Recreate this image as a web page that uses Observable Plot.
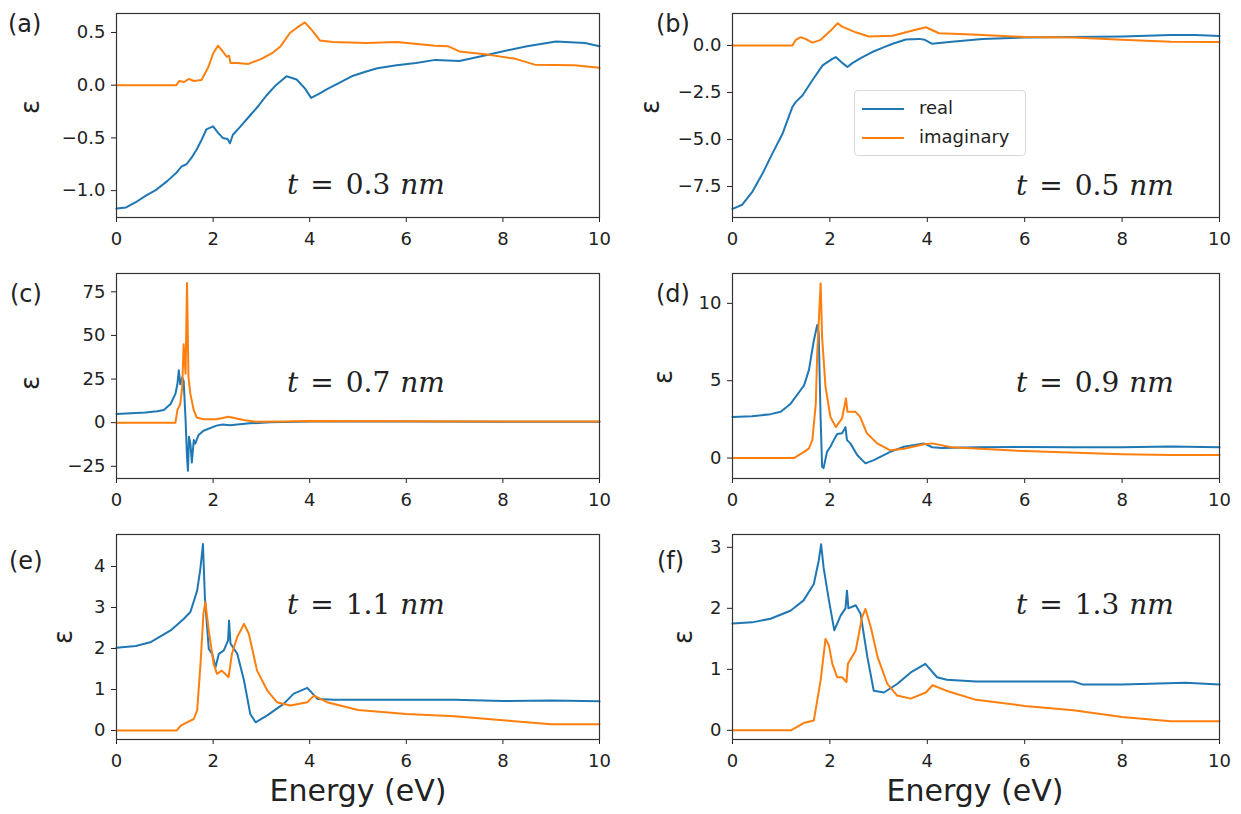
<!DOCTYPE html>
<html><head><meta charset="utf-8">
<script src="https://cdn.jsdelivr.net/npm/d3@7"></script>
<script src="https://cdn.jsdelivr.net/npm/@observablehq/plot@0.6"></script>
<style>
body{margin:0;background:#fff;}
#fig{position:relative;width:1241px;height:814px;overflow:hidden;background:#fff;font-family:"DejaVu Sans",sans-serif;color:#222;}
.p{position:absolute;}
.plab{position:absolute;font-size:24px;line-height:1;}
.ylab{position:absolute;font-size:26px;line-height:1;transform:translate(-50%,-50%) rotate(-90deg);}
.xlab{position:absolute;font-size:30px;line-height:1;transform:translateX(-50%);white-space:nowrap;}
.ann{position:absolute;font-family:"DejaVu Serif",serif;font-size:28px;line-height:1;white-space:nowrap;}
.ann span{display:inline-block;}
.leg{position:absolute;left:854px;top:90px;width:170px;height:64px;border:1px solid #d8d8d8;border-radius:4px;background:rgba(255,255,255,0.85);font-size:18px;}
.leg div{position:absolute;left:7px;height:20px;line-height:20px;white-space:nowrap;}
.leg i{display:inline-block;width:42px;height:2px;vertical-align:middle;margin-right:15px;}
</style></head><body><div id="fig"></div>
<script>
// ---------- data (energy in eV, permittivity) ----------
const energyTicks = [0, 2, 4, 6, 8, 10];
const seriesNames = ["real", "imaginary"];
const thickness = ["0.3", "0.5", "0.7", "0.9", "1.1", "1.3"];

// (a) t = 0.3 nm
const aReE = [0,0.2,0.4,0.6,0.83,1.05,1.24,1.35,1.45,1.55,1.66,1.76,1.86,2.0,2.1,2.2,2.3,2.35,2.41,2.55,2.76,2.95,3.1,3.3,3.52,3.73,3.9,4.03,4.2,4.35,4.69,4.9,5.17,5.4,5.8,6.2,6.6,7.1,7.6,7.85,8.5,9.1,9.7,10];
const aRe  = [-1.17,-1.16,-1.11,-1.05,-0.99,-0.91,-0.83,-0.77,-0.75,-0.69,-0.61,-0.52,-0.42,-0.39,-0.45,-0.50,-0.51,-0.55,-0.47,-0.40,-0.29,-0.19,-0.10,0.0,0.085,0.054,-0.03,-0.12,-0.08,-0.04,0.04,0.09,0.13,0.16,0.19,0.21,0.24,0.23,0.28,0.306,0.37,0.415,0.40,0.37];
const aImE = [0,1.24,1.3,1.4,1.5,1.6,1.76,1.9,2.0,2.1,2.2,2.28,2.33,2.36,2.5,2.72,3.0,3.24,3.4,3.59,3.75,3.9,4.05,4.21,4.48,5.17,5.8,6.6,6.86,7.1,7.68,8.26,8.66,9.48,10];
const aIm  = [0,0,0.04,0.03,0.06,0.04,0.05,0.17,0.30,0.375,0.32,0.27,0.28,0.21,0.21,0.20,0.25,0.31,0.37,0.495,0.55,0.595,0.52,0.425,0.41,0.40,0.41,0.375,0.37,0.32,0.29,0.25,0.195,0.19,0.165];
const aTicks = [-1.0, -0.5, 0.0, 0.5];

// (b) t = 0.5 nm
const bReE = [0,0.2,0.41,0.62,0.82,1.03,1.23,1.3,1.44,1.64,1.85,2.05,2.12,2.26,2.36,2.46,2.65,2.87,3.1,3.29,3.56,3.83,3.95,4.1,4.45,5.13,6,7,8,9,9.5,10];
const bRe  = [-8.69,-8.47,-7.77,-6.8,-5.74,-4.68,-3.27,-3.0,-2.65,-1.85,-1.06,-0.71,-0.62,-0.94,-1.15,-0.94,-0.65,-0.35,-0.1,0.09,0.32,0.35,0.3,0.09,0.18,0.35,0.42,0.45,0.48,0.55,0.55,0.5];
const bImE = [0,1.23,1.3,1.4,1.5,1.64,1.81,2.0,2.16,2.25,2.36,2.53,2.8,3.29,3.7,3.97,4.24,4.8,5.13,6,7,8,9,10];
const bIm  = [0,0,0.3,0.44,0.35,0.15,0.3,0.75,1.18,1.0,0.88,0.7,0.48,0.52,0.8,0.97,0.65,0.6,0.55,0.45,0.42,0.3,0.2,0.18];
const bTicks = [-7.5, -5.0, -2.5, 0.0];

// (c) t = 0.7 nm
const cReE = [0,0.3,0.6,0.84,0.98,1.12,1.22,1.26,1.29,1.32,1.36,1.39,1.43,1.46,1.48,1.5,1.53,1.56,1.6,1.63,1.7,1.8,2.07,2.2,2.35,2.5,2.76,3.18,4,6,8,10];
const cRe  = [5.0,5.4,5.8,6.5,7.3,10.7,16.5,22,30,22,26,24,2,-20,-27.6,-8,-12,-22.8,-10,-12,-7,-4.6,-1.7,-1.0,-1.5,-1.0,-0.4,0.2,0.6,0.6,0.5,0.5];
const cImE = [0,1.22,1.26,1.32,1.36,1.39,1.43,1.46,1.49,1.53,1.6,1.66,1.8,2.07,2.32,2.63,2.9,3.5,4,6,8,10];
const cIm  = [0,0,7,10.7,20,45,28,80,26,16.5,7,3,2,2,3.4,1.5,0.5,0.7,1.0,0.8,0.7,0.6];
const cTicks = [-25, 0, 25, 50, 75];

// (d) t = 0.9 nm
const dReE = [0,0.4,0.78,0.99,1.19,1.4,1.47,1.57,1.67,1.74,1.77,1.81,1.84,1.87,1.94,2.01,2.08,2.15,2.25,2.32,2.35,2.42,2.56,2.73,2.9,3.24,3.52,3.93,4.1,4.3,5,6,7,8,9,10];
const dRe  = [2.65,2.7,2.84,3.0,3.5,4.4,4.7,5.7,7.6,8.6,8.1,2.5,-0.56,-0.65,0.4,0.73,1.16,1.55,1.6,2.0,1.16,0.95,0.2,-0.34,-0.13,0.4,0.73,0.95,0.7,0.65,0.7,0.72,0.7,0.7,0.75,0.7];
const dImE = [0,1.26,1.47,1.57,1.64,1.71,1.74,1.81,1.84,1.91,2.01,2.12,2.25,2.33,2.36,2.52,2.62,2.76,2.97,3.24,3.52,3.93,4.1,4.5,6,8,9,10];
const dIm  = [0,0,0.4,0.63,1.16,3.5,6.8,11.3,7.8,4.6,2.67,2.0,2.57,3.86,3.0,3.0,2.67,1.6,0.95,0.5,0.6,0.9,0.95,0.7,0.45,0.25,0.2,0.2];
const dTicks = [0, 5, 10];

// (e) t = 1.1 nm
const eReE = [0,0.4,0.7,1.12,1.39,1.53,1.67,1.74,1.79,1.83,1.91,1.98,2.05,2.12,2.22,2.31,2.33,2.36,2.5,2.64,2.77,2.88,3.12,3.46,3.67,3.95,4.16,4.5,5,6,7,8,9,10];
const eRe  = [2.02,2.06,2.15,2.44,2.72,2.89,3.41,3.98,4.55,3.25,1.99,1.87,1.54,1.87,1.95,2.2,2.68,2.12,1.87,1.22,0.4,0.2,0.37,0.65,0.9,1.04,0.77,0.75,0.75,0.75,0.75,0.72,0.73,0.71];
const eImE = [0,1.25,1.33,1.6,1.67,1.74,1.8,1.84,1.91,2.01,2.08,2.18,2.32,2.39,2.5,2.64,2.74,2.91,3.12,3.32,3.6,3.95,4.09,4.36,5,6,7,8,9,10];
const eIm  = [0,0,0.12,0.28,0.49,1.63,2.85,3.13,2.44,1.63,1.38,1.46,1.3,1.87,2.28,2.6,2.36,1.46,0.98,0.69,0.61,0.69,0.85,0.69,0.5,0.4,0.35,0.25,0.15,0.15];
const eTicks = [0, 1, 2, 3, 4];

// (f) t = 1.3 nm
const fReE = [0,0.4,0.78,1.19,1.46,1.67,1.77,1.82,1.87,1.98,2.09,2.22,2.32,2.35,2.38,2.53,2.63,2.77,2.9,3.11,3.38,3.66,3.96,4.2,4.4,5,6,7,7.2,8,9.3,10];
const fRe  = [1.75,1.77,1.83,1.96,2.13,2.4,2.78,3.05,2.67,2.13,1.64,1.88,2.0,2.29,2.0,2.05,1.91,1.2,0.65,0.62,0.76,0.95,1.09,0.87,0.83,0.8,0.8,0.8,0.75,0.75,0.78,0.75];
const fImE = [0,1.2,1.46,1.67,1.81,1.91,1.98,2.05,2.15,2.25,2.34,2.37,2.53,2.66,2.73,2.84,2.98,3.18,3.38,3.66,3.97,4.11,4.39,5,6,7,8,9,10];
const fIm  = [0,0,0.12,0.16,0.82,1.5,1.39,1.09,0.87,0.87,0.79,1.09,1.31,1.85,1.99,1.69,1.2,0.76,0.57,0.52,0.62,0.74,0.65,0.5,0.4,0.33,0.22,0.15,0.15];
const fTicks = [0, 1, 2, 3];

// ---------- layout ----------
const BLUE = "#1f77b4", ORANGE = "#ff7f0e";
const cols = [
  {left: 0,   width: 620, mL: 116, mR: 21},
  {left: 620, width: 621, mL: 112, mR: 22}
];
const rows = [
  {top: 0,   height: 252, mT: 13, mB: 35},
  {top: 250, height: 263, mT: 23, mB: 35},
  {top: 510, height: 264, mT: 24, mB: 35}
];
const panels = [
  {id: "a", r: 0, c: 0, reE: aReE, re: aRe, imE: aImE, im: aIm, ticks: aTicks, dom: [-1.255, 0.68], fmt: ".1f", ylab: [30, 107],  ann: [287, 171]},
  {id: "b", r: 0, c: 1, reE: bReE, re: bRe, imE: bImE, im: bIm, ticks: bTicks, dom: [-9.15, 1.7],   fmt: ".1f", ylab: [650, 107], ann: [1016, 172]},
  {id: "c", r: 1, c: 0, reE: cReE, re: cRe, imE: cImE, im: cIm, ticks: cTicks, dom: [-32, 85.5],    fmt: "d",   ylab: [30, 383],  ann: [287, 369]},
  {id: "d", r: 1, c: 1, reE: dReE, re: dRe, imE: dImE, im: dIm, ticks: dTicks, dom: [-1.32, 11.93], fmt: "d",   ylab: [663, 377], ann: [1016, 369]},
  {id: "e", r: 2, c: 0, reE: eReE, re: eRe, imE: eImE, im: eIm, ticks: eTicks, dom: [-0.22, 4.78],  fmt: "d",   ylab: [63, 637],  ann: [287, 591]},
  {id: "f", r: 2, c: 1, reE: fReE, re: fRe, imE: fImE, im: fIm, ticks: fTicks, dom: [-0.15, 3.21],  fmt: "d",   ylab: [683, 637], ann: [1016, 591]}
];
const plabPos = {a: [8, 12], b: [656, 12], c: [10, 282], d: [656, 282], e: [9, 549], f: [657, 549]};

const fig = document.getElementById("fig");

panels.forEach((p, i) => {
  const col = cols[p.c], row = rows[p.r];
  const reData = p.reE.map((e, k) => ({e, v: p.re[k], s: seriesNames[0]}));
  const imData = p.imE.map((e, k) => ({e, v: p.im[k], s: seriesNames[1]}));
  const chart = Plot.plot({
    width: col.width, height: row.height,
    marginLeft: col.mL, marginRight: col.mR, marginTop: row.mT, marginBottom: row.mB,
    style: {fontFamily: "DejaVu Sans, sans-serif", fontSize: "18px", color: "#222", background: "transparent", overflow: "visible"},
    x: {domain: [0, 10], ticks: energyTicks, tickFormat: "d", tickSize: 5, tickPadding: 10, label: null},
    y: {domain: p.dom, ticks: p.ticks, tickFormat: d3.format(p.fmt), tickSize: 5, tickPadding: 6, label: null},
    marks: [
      Plot.line(reData, {x: "e", y: "v", stroke: BLUE, strokeWidth: 2, strokeLinejoin: "round"}),
      Plot.line(imData, {x: "e", y: "v", stroke: ORANGE, strokeWidth: 2, strokeLinejoin: "round"}),
      Plot.frame({stroke: "#333", strokeWidth: 1.2})
    ]
  });
  chart.classList.add("p");
  chart.style.left = col.left + "px";
  chart.style.top = row.top + "px";
  chart.style.position = "absolute";
  fig.appendChild(chart);

  const pl = document.createElement("div");
  pl.className = "plab";
  pl.style.left = plabPos[p.id][0] + "px";
  pl.style.top = plabPos[p.id][1] + "px";
  pl.textContent = "(" + p.id + ")";
  fig.appendChild(pl);

  const yl = document.createElement("div");
  yl.className = "ylab";
  yl.style.left = p.ylab[0] + "px";
  yl.style.top = p.ylab[1] + "px";
  yl.textContent = "ε";
  fig.appendChild(yl);

  const an = document.createElement("div");
  an.className = "ann";
  an.style.left = p.ann[0] + "px";
  an.style.top = p.ann[1] + "px";
  an.innerHTML = '<span style="font-style:italic">t</span><span style="margin:0 12px">=</span><span>' +
    thickness[i] + '</span><span style="font-style:italic;margin-left:10px">nm</span>';
  fig.appendChild(an);
});

// x-axis titles below bottom row
[[358, 776], [975, 776]].forEach(([x, y]) => {
  const d = document.createElement("div");
  d.className = "xlab";
  d.style.left = x + "px";
  d.style.top = y + "px";
  d.textContent = "Energy (eV)";
  fig.appendChild(d);
});

// legend in panel (b)
const leg = document.createElement("div");
leg.className = "leg";
leg.innerHTML = '<div style="top:7px"><i style="background:' + BLUE + '"></i>' + seriesNames[0] + '</div>' +
                '<div style="top:36px"><i style="background:' + ORANGE + '"></i>' + seriesNames[1] + '</div>';
fig.appendChild(leg);
</script></body></html>
